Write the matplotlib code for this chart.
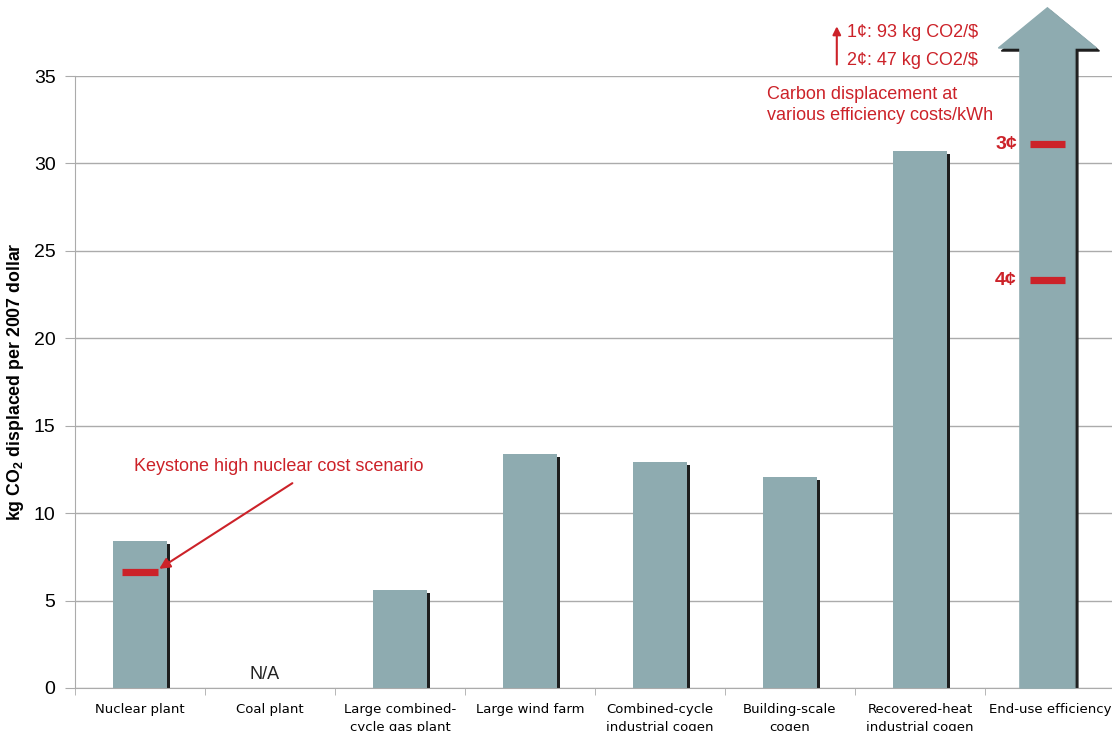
import matplotlib.pyplot as plt
import matplotlib.transforms as transforms
from matplotlib.patches import Polygon

# categories and kg CO2 displaced per 2007 dollar
categories = ['Nuclear plant', 'Coal plant', 'Large combined-\ncycle gas plant',
              'Large wind farm', 'Combined-cycle\nindustrial cogen',
              'Building-scale\ncogen', 'Recovered-heat\nindustrial cogen',
              'End-use efficiency']
values = [8.4, None, 5.6, 13.38, 12.92, 12.06, 30.7, None]

# end-use efficiency runs off the scale (1c: 93, 2c: 47 kg CO2/$)
offscale_notes = ['1¢: 93 kg CO2/$', '2¢: 47 kg CO2/$']
efficiency_costs = ['3¢', '4¢']
efficiency_values = [31.1, 23.33]
keystone_value = 6.63

bar_color = '#8eabb0'
red = '#cc2229'
grid_color = '#ababab'

plt.rcParams['font.family'] = ['Liberation Sans', 'DejaVu Sans']

fig = plt.figure(figsize=(11.12, 7.31), dpi=100)
ax = fig.add_axes([75 / 1112, 43 / 731, 1040 / 1112, 612 / 731])

x = list(range(len(categories)))
width = 0.423

# drop shadow: same shapes shifted 3px right and 3px down
shadow = ax.transData + transforms.ScaledTranslation(3 / 100, -3 / 100, fig.dpi_scale_trans)

for i, v in enumerate(values):
    if v is None:
        continue
    ax.bar(i, v, width, color='#1e1e1e', transform=shadow, zorder=2)
    ax.bar(i, v, width, color=bar_color, zorder=3)

# arrow for end-use efficiency
i = len(categories) - 1
cx = i - 0.02
shaft_top = 36.6
tip = 38.9
head_half = 0.377


def arrow_outline(base):
    return [(cx - width / 2, base), (cx - width / 2, shaft_top), (cx - head_half, shaft_top),
            (cx, tip), (cx + head_half, shaft_top), (cx + width / 2, shaft_top),
            (cx + width / 2, base)]


# shadow base lifted so it stops at the axis line after the shift
ax.add_patch(Polygon(arrow_outline(0.172), closed=True, color='#1e1e1e', transform=shadow,
                     clip_on=False, zorder=2))
ax.add_patch(Polygon(arrow_outline(0), closed=True, color=bar_color, clip_on=False, zorder=3))

# cost markers
mark_half = 0.135
ax.hlines(efficiency_values, cx - mark_half, cx + mark_half, color=red, lw=5.2, zorder=4)
for lab, v in zip(efficiency_costs, efficiency_values):
    ax.text(cx - 0.235, v, lab, color=red, fontsize=14, fontweight='bold',
            ha='right', va='center', zorder=4)

ax.hlines([keystone_value], -mark_half, mark_half, color=red, lw=5.2, zorder=4)
ax.annotate('', xy=(0.13, keystone_value + 0.1), xytext=(1.19, 11.8),
            arrowprops=dict(arrowstyle='-|>', color=red, lw=1.5, mutation_scale=16),
            zorder=5)
ax.text(-0.05, 12.2, 'Keystone high nuclear cost scenario', color=red, fontsize=13,
        ha='left', va='bottom')

ax.text(4.82, 34.45, 'Carbon displacement at\nvarious efficiency costs/kWh', color=red,
        fontsize=13, ha='left', va='top', linespacing=1.3)
ax.text(5.44, 35.9, offscale_notes[1], color=red, fontsize=13, ha='left', va='center',
        clip_on=False)
ax.text(5.44, 37.5, offscale_notes[0], color=red, fontsize=13, ha='left', va='center',
        clip_on=False)
ax.annotate('', xy=(5.36, 38.0), xytext=(5.36, 35.5),
            arrowprops=dict(arrowstyle='-|>', color=red, lw=1.5, mutation_scale=12),
            annotation_clip=False)

ax.text(0.96, 0.3, 'N/A', fontsize=13, ha='center', va='bottom', color='#222222')

ax.set_xlim(-0.5, len(categories) - 0.5)
ax.set_ylim(0, 35)
ax.set_yticks(range(0, 36, 5))
ax.tick_params(axis='y', labelsize=14, length=7, color=grid_color, pad=7)
ax.set_xticks(x)
ax.set_xticklabels(categories, fontsize=9.5, family='DejaVu Sans', linespacing=1.45)
ax.tick_params(axis='x', length=0, pad=11)
ax.set_xticks([k - 0.5 for k in range(len(categories) + 1)], minor=True)
ax.tick_params(axis='x', which='minor', length=5, color=grid_color)

ax.grid(axis='y', color=grid_color, lw=1)
ax.set_axisbelow(True)
for s in ['top', 'right']:
    ax.spines[s].set_visible(False)
for s in ['left', 'bottom']:
    ax.spines[s].set_color(grid_color)

ax.set_ylabel('kg CO$_\\mathregular{2}$ displaced per 2007 dollar', fontsize=12.8,
              fontweight='bold')
ax.yaxis.set_label_coords(-0.047, 0.5)

fig.savefig('out.png', dpi=100)
